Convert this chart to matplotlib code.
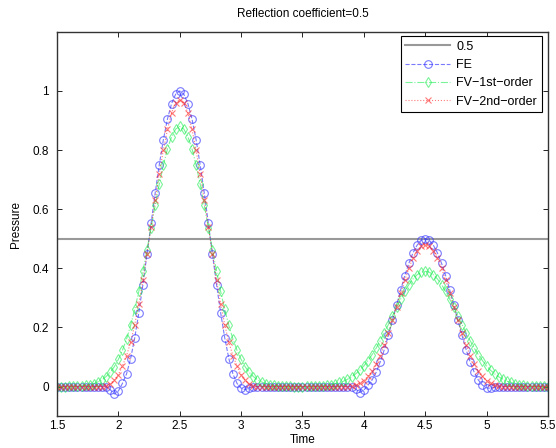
import numpy as np
import matplotlib.pyplot as plt

plt.rcParams['font.family'] = ['Liberation Sans', 'DejaVu Sans']

# time grid of the solver output (dt = 1/30)
time = np.linspace(1.5, 5.5, 121)

ref_level = 0.5

fe = [0, 0, 0, 0, 0, 0, 0, 0, 0, 0, 0, 0, 0,
      -0.01, -0.025, -0.015,
      0.011, 0.043, 0.095, 0.165, 0.25, 0.345, 0.448, 0.552, 0.655, 0.75, 0.835, 0.905, 0.957, 0.989, 1.0,
      0.989, 0.957, 0.905, 0.835, 0.75, 0.655, 0.552, 0.448, 0.345, 0.25, 0.165, 0.095, 0.043, 0.011,
      -0.005, -0.01, -0.004,
      0, 0, 0, 0, 0, 0, 0, 0, 0, 0, 0, 0, 0, 0, 0, 0, 0, 0, 0, 0, 0, 0, 0, 0, 0,
      -0.008, -0.02, -0.012,
      0.005, 0.022, 0.048, 0.083, 0.125, 0.173, 0.224, 0.276, 0.327, 0.375, 0.417, 0.452, 0.478, 0.495, 0.5,
      0.495, 0.478, 0.452, 0.417, 0.375, 0.327, 0.276, 0.224, 0.173, 0.125, 0.083, 0.048, 0.022, 0.005,
      -0.004, -0.006, -0.002,
      0, 0, 0, 0, 0, 0, 0, 0, 0, 0, 0, 0, 0]

fv1 = [0, 0, 0,
       0.001, 0.001, 0.002, 0.003, 0.004, 0.007, 0.010, 0.016, 0.023, 0.034, 0.048, 0.067, 0.092,
       0.123, 0.161, 0.207, 0.261, 0.322, 0.390, 0.463, 0.538, 0.613, 0.685, 0.749, 0.804, 0.845, 0.871, 0.88,
       0.871, 0.845, 0.804, 0.749, 0.685, 0.613, 0.538, 0.463, 0.390, 0.322, 0.261, 0.207, 0.161, 0.123,
       0.092, 0.067, 0.048, 0.034, 0.023, 0.016, 0.010, 0.007, 0.004, 0.003, 0.002, 0.001, 0.001,
       0, 0, 0,
       0.001, 0.001, 0.002, 0.002, 0.003, 0.005, 0.007, 0.010, 0.014, 0.018, 0.025, 0.033, 0.043, 0.055, 0.070,
       0.088, 0.108, 0.130, 0.155, 0.182, 0.210, 0.239, 0.268, 0.296, 0.322, 0.345, 0.364, 0.378, 0.387, 0.39,
       0.387, 0.378, 0.364, 0.345, 0.322, 0.296, 0.268, 0.239, 0.210, 0.182, 0.155, 0.130, 0.108, 0.088,
       0.070, 0.055, 0.043, 0.033, 0.025, 0.018, 0.014, 0.010, 0.007, 0.005, 0.003, 0.002, 0.002, 0.001, 0.001,
       0]

fv2 = [0, 0, 0, 0, 0, 0, 0, 0, 0, 0, 0, 0,
       0.003, 0.01, 0.022, 0.04, 0.07, 0.105, 0.15, 0.21, 0.28, 0.36, 0.45, 0.54, 0.63, 0.72, 0.8, 0.87, 0.925, 0.96, 0.97,
       0.96, 0.925, 0.87, 0.8, 0.72, 0.63, 0.54, 0.45, 0.36, 0.28, 0.21, 0.15, 0.105, 0.07, 0.04, 0.022, 0.01, 0.003,
       0, 0, 0, 0, 0, 0, 0, 0, 0, 0, 0, 0, 0, 0, 0, 0, 0, 0, 0, 0, 0, 0, 0,
       0.002, 0.005, 0.011, 0.02, 0.035, 0.052, 0.075, 0.105, 0.14, 0.18, 0.225, 0.27, 0.315, 0.36, 0.4, 0.435, 0.46, 0.475, 0.48,
       0.475, 0.46, 0.435, 0.4, 0.36, 0.315, 0.27, 0.225, 0.18, 0.14, 0.105, 0.075, 0.052, 0.035, 0.02, 0.011, 0.005, 0.002,
       0, 0, 0, 0, 0, 0, 0, 0, 0, 0, 0, 0]

fig = plt.figure(figsize=(5.56, 4.48), dpi=100)
ax = fig.add_axes([0.1025, 0.071, 0.883, 0.858])

ax.axhline(ref_level, color='#999999', lw=1.5, label='0.5')
ax.plot(time, fe, '--o', color='#3333ff', mfc='none', ms=5.5, mew=0.8, lw=0.8, alpha=0.65, label='FE')
ax.plot(time, fv1, '-.d', color='#22ee55', mfc='none', ms=5.5, mew=0.8, lw=0.8, alpha=0.6, label='FV\u22121st\u2212order')
ax.plot(time, fv2, ':x', color='#ff2222', ms=4, mew=0.8, lw=0.8, alpha=0.6, label='FV\u22122nd\u2212order')

ax.set_xlim(1.5, 5.5)
ax.set_ylim(-0.1, 1.2)
ax.set_xticks([1.5, 2, 2.5, 3, 3.5, 4, 4.5, 5, 5.5])
ax.set_xticklabels(['1.5', '2', '2.5', '3', '3.5', '4', '4.5', '5', '5.5'])
ax.set_yticks([0, 0.2, 0.4, 0.6, 0.8, 1])
ax.set_yticklabels(['0', '0.2', '0.4', '0.6', '0.8', '1'])
ax.tick_params(direction='in', top=True, right=True, length=3.5, width=0.6, labelsize=8.5)
ax.tick_params(axis='x', pad=3)
ax.tick_params(axis='y', pad=6)
for s in ax.spines.values():
    s.set_linewidth(1.0)
    s.set_color('#333333')

ax.set_title('Reflection coefficient=0.5', fontsize=8.5, pad=11)
ax.set_xlabel('Time', fontsize=8.5, labelpad=1)
ax.set_ylabel('Pressure', fontsize=8.5, labelpad=7)

leg = ax.legend(loc='upper right', bbox_to_anchor=(0.987, 0.988), fontsize=9, numpoints=1,
                handlelength=3.6, fancybox=False, framealpha=1, borderpad=0.35,
                labelspacing=0.5, handletextpad=0.5, borderaxespad=0)
leg.get_frame().set_edgecolor('black')
leg.get_frame().set_linewidth(0.8)

fig.savefig('out.png', dpi=100)
